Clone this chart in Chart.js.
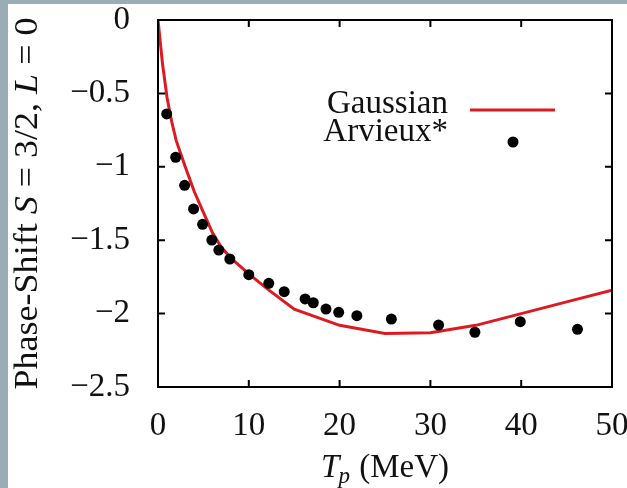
<!DOCTYPE html>
<html>
<head>
<meta charset="utf-8">
<script src="https://cdn.jsdelivr.net/npm/chart.js@4.4.0/dist/chart.umd.min.js"></script>
<style>
  body { margin: 0; background: #9badb4; }
  #wrap { position: absolute; left: 8px; top: 4px; width: 619px; height: 484px; background: #fff; }
</style>
</head>
<body>
<div id="wrap"><canvas id="mycanvas" width="619" height="484"></canvas></div>
<script>
// Gaussian model curve
var gaussX = [0, 0.5, 1, 1.5, 2, 3, 4, 5, 6, 7, 8, 10, 12, 15, 20, 25, 30, 35, 40, 45, 50];
var gaussY = [0, -0.3, -0.53, -0.69, -0.82, -1.0, -1.17, -1.31, -1.45, -1.55, -1.62, -1.73, -1.83, -1.97, -2.08, -2.135, -2.13, -2.08, -2.0, -1.92, -1.84];
// Arvieux* data points
var arvX = [0.96, 1.95, 2.93, 3.92, 4.91, 5.93, 6.7, 7.91, 10.0, 12.2, 13.9, 16.2, 17.1, 18.5, 19.9, 21.9, 25.7, 30.9, 34.9, 39.9, 46.2];
var arvY = [-0.64, -0.935, -1.126, -1.287, -1.392, -1.499, -1.567, -1.628, -1.735, -1.794, -1.851, -1.90, -1.926, -1.969, -1.991, -2.014, -2.037, -2.078, -2.127, -2.055, -2.107];
// axes
var xTicks = [0, 10, 20, 30, 40, 50];
var yTicks = [0, -0.5, -1, -1.5, -2, -2.5];
var legendLabels = ['Gaussian', 'Arvieux*'];

var RED = '#dd1a22';
var FONT = 'Liberation Serif';
var FS = 33;

function toPoints(xs, ys) {
	var out = [];
	for (var i in xs) out.push({x: xs[i], y: ys[i]});
	return out;
}

// frame, inward ticks, axis titles, legend
var decor = {
	id: 'decor',
	afterDraw: function(chart) {
		var ctx = chart.ctx, a = chart.chartArea;
		var xs = chart.scales.x, ys = chart.scales.y;
		ctx.save();
		ctx.strokeStyle = '#000';
		ctx.lineWidth = 2;
		ctx.beginPath();
		xTicks.forEach(function(v) {
			var p = xs.getPixelForValue(v);
			ctx.moveTo(p, a.bottom); ctx.lineTo(p, a.bottom - 7);
			ctx.moveTo(p, a.top); ctx.lineTo(p, a.top + 7);
		});
		yTicks.forEach(function(v) {
			var p = ys.getPixelForValue(v);
			ctx.moveTo(a.left, p); ctx.lineTo(a.left + 7, p);
			ctx.moveTo(a.right, p); ctx.lineTo(a.right - 7, p);
		});
		ctx.stroke();
		ctx.strokeRect(a.left, a.top, a.right - a.left, a.bottom - a.top);

		ctx.fillStyle = '#111';
		ctx.textBaseline = 'alphabetic';

		// x title: T_p (MeV)
		var it = 'italic ' + FS + 'px "' + FONT + '"', rm = FS + 'px "' + FONT + '"', sub = 'italic 23px "' + FONT + '"';
		ctx.font = it; var wT = ctx.measureText('T').width;
		ctx.font = sub; var wp = ctx.measureText('p').width;
		ctx.font = rm; var wM = ctx.measureText(' (MeV)').width;
		var cx = (a.left + a.right) / 2, bx = cx - (wT + wp + wM) / 2, by = 473;
		ctx.textAlign = 'left';
		ctx.font = it; ctx.fillText('T', bx, by);
		ctx.font = sub; ctx.fillText('p', bx + wT - 1, by + 6);
		ctx.font = rm; ctx.fillText(' (MeV)', bx + wT + wp, by);

		// y title: Phase-Shift S = 3/2, L = 0  (stretched to the span of the original)
		var parts = [['Phase-Shift ', rm], ['S', it], [' = 3/2, ', rm], ['L', it], [' = 0', rm]];
		var total = 0;
		parts.forEach(function(p) { ctx.font = p[1]; p.push(ctx.measureText(p[0]).width); total += p[2]; });
		ctx.save();
		ctx.translate(29, (a.top + a.bottom) / 2);
		ctx.rotate(-Math.PI / 2);
		ctx.scale(372 / total, 1);
		var px = -total / 2;
		parts.forEach(function(p) { ctx.font = p[1]; ctx.fillText(p[0], px, 0); px += p[2]; });
		ctx.restore();

		// legend
		ctx.font = rm;
		ctx.textAlign = 'right';
		var lx = a.left + 290;
		ctx.fillText(legendLabels[0], lx, a.top + 93);
		ctx.fillText(legendLabels[1], lx, a.top + 121);
		ctx.strokeStyle = RED;
		ctx.lineWidth = 3;
		ctx.beginPath();
		ctx.moveTo(lx + 22, a.top + 90); ctx.lineTo(lx + 107, a.top + 90);
		ctx.stroke();
		ctx.fillStyle = '#000';
		ctx.beginPath();
		ctx.arc(lx + 65, a.top + 122, 5.5, 0, Math.PI * 2);
		ctx.fill();
		ctx.restore();
	}
};

var chartdata = {
	datasets: [
		{
			label: legendLabels[1],
			data: toPoints(arvX, arvY),
			showLine: false,
			pointRadius: 5.5,
			pointBackgroundColor: '#000',
			pointBorderWidth: 0,
			order: 0
		},
		{
			label: legendLabels[0],
			data: toPoints(gaussX, gaussY),
			showLine: true,
			borderColor: RED,
			borderWidth: 3,
			pointRadius: 0,
			tension: 0,
			order: 1
		}
	]
};

var ctx = document.getElementById('mycanvas');
var chart = new Chart(ctx, {
	type: 'scatter',
	data: chartdata,
	options: {
		responsive: false,
		animation: false,
		layout: { padding: { left: 8, top: 16, right: 15, bottom: 0 } },
		plugins: { legend: { display: false }, tooltip: { enabled: false } },
		scales: {
			x: {
				min: 0, max: 50,
				grid: { display: false },
				border: { display: false },
				afterFit: function(s) { s.height = 101; s.paddingLeft = 0; s.paddingRight = 0; },
				afterBuildTicks: function(s) { s.ticks = xTicks.map(function(v) { return {value: v}; }); },
				ticks: { padding: 12, color: '#111', font: { family: FONT, size: FS }, maxRotation: 0 }
			},
			y: {
				min: -2.5, max: 0,
				grid: { display: false },
				border: { display: false },
				afterFit: function(s) { s.width = 142; s.paddingTop = 0; s.paddingBottom = 0; },
				afterBuildTicks: function(s) { s.ticks = yTicks.map(function(v) { return {value: v}; }); },
				ticks: {
					padding: 20, color: '#111', font: { family: FONT, size: FS },
					callback: function(v) { return v < 0 ? '\u2212' + String(-v) : String(v); }
				}
			}
		}
	},
	plugins: [decor]
});
</script>
</body>
</html>
